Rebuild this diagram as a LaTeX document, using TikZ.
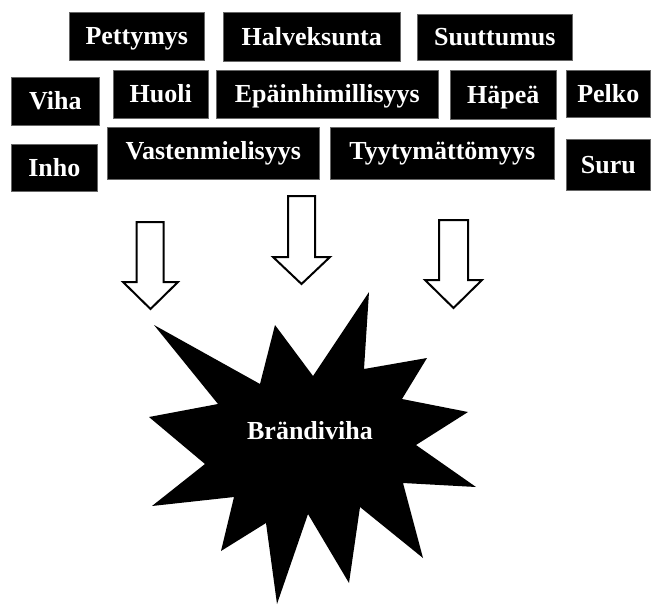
\documentclass[tikz,border=0pt]{standalone}
\usepackage{fontspec}
\setmainfont{Liberation Serif}
\begin{document}
\begin{tikzpicture}[x=1pt,y=-1pt,
  emo/.style={fill=black, draw=black!60, line width=0.6pt, text=white,
    font=\bfseries\fontsize{26}{30}\selectfont, inner sep=0pt,
    text height=17pt, text depth=0pt, anchor=north west},
  hollow/.style={draw=black, line width=2pt, fill=white, line join=miter},
  burst/.style={fill=black},
  burstlabel/.style={text=white, font=\bfseries\fontsize{26}{30}\selectfont,
    inner sep=0pt, text height=17pt, text depth=0pt}
]
\useasboundingbox (0,0) rectangle (652,605);

% emotion boxes, top row
\node[emo, minimum width=135pt, minimum height=48pt] (pet) at (69,12) {Pettymys};
\node[emo, minimum width=177pt, minimum height=49pt] (hal) at (223,12) {Halveksunta};
\node[emo, minimum width=155pt, minimum height=46pt] (suu) at (417,14) {Suuttumus};
% middle row
\node[emo, minimum width=88pt, minimum height=48pt] (vih) at (11,77) {Viha};
\node[emo, minimum width=95pt, minimum height=48pt] (huo) at (113,70) {Huoli};
\node[emo, minimum width=222pt, minimum height=48pt] (epa) at (216,70) {Epäinhimillisyys};
\node[emo, minimum width=106pt, minimum height=49pt] (hap) at (450,70) {Häpeä};
\node[emo, minimum width=84pt, minimum height=47pt] (pel) at (566,70) {Pelko};
% bottom row
\node[emo, minimum width=86pt, minimum height=47pt] (inh) at (11,144) {Inho};
\node[emo, minimum width=212pt, minimum height=52pt, text depth=5pt] (vas) at (107,127) {Vastenmielisyys};
\node[emo, minimum width=224pt, minimum height=52pt, text depth=5pt] (tyy) at (330,127) {Tyytymättömyys};
\node[emo, minimum width=84pt, minimum height=51pt] (sur) at (566,139) {Suru};

% hollow downward block arrows
\draw[hollow] (136.5,222) -- (163.5,222) -- (163.5,282) -- (178,282) -- (150.5,309)
  -- (123,282) -- (136.5,282) -- cycle;
\draw[hollow] (288,196) -- (315,196) -- (315,257) -- (330,257) -- (301.5,284)
  -- (273,257) -- (288,257) -- cycle;
\draw[hollow] (439,220) -- (468,220) -- (468,280) -- (482,280) -- (453.5,308)
  -- (425,280) -- (439,280) -- cycle;

% twelve-pointed burst
\fill[burst] (154,325) -- (260,384) -- (275,325) -- (313,376) -- (369,292)
  -- (364,369) -- (427,358) -- (402,399) -- (468,412) -- (416,445)
  -- (476,487) -- (403,483) -- (423,558) -- (360,507) -- (349,583)
  -- (308,514) -- (277,604) -- (266,523) -- (221,551) -- (234,497)
  -- (152,506) -- (205,464) -- (149,417) -- (218,404) -- cycle;
\node[burstlabel] (brand) at (310,431) {Brändiviha};
\end{tikzpicture}
\end{document}
